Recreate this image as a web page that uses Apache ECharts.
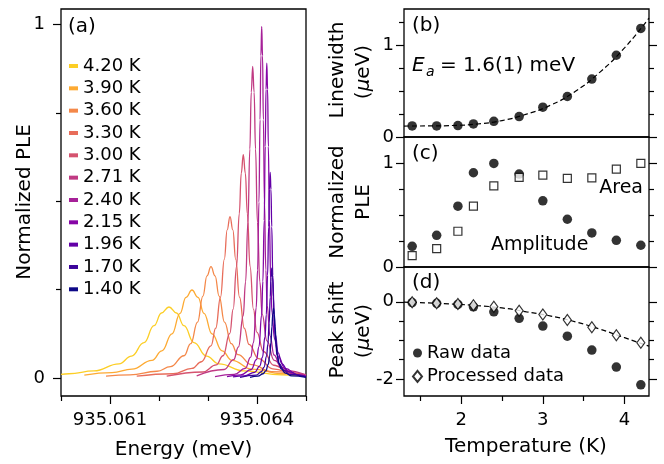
<!DOCTYPE html>
<html><head><meta charset="utf-8">
<script src="https://cdn.jsdelivr.net/npm/echarts@6/dist/echarts.min.js"></script>
<style>html,body{margin:0;padding:0;background:#fff}#chart{width:664px;height:464px}</style>
</head><body><div id="chart"></div>
<script>
// ---------- DATA ----------
const temps = [1.40, 1.70, 1.96, 2.15, 2.40, 2.71, 3.00, 3.30, 3.60, 3.90, 4.20];
const linewidth = [0.121, 0.121, 0.125, 0.143, 0.172, 0.223, 0.326, 0.443, 0.634, 0.894, 1.187];
const amplitude = [0.20, 0.306, 0.587, 0.91, 1.0, 0.897, 0.639, 0.461, 0.329, 0.258, 0.21];
const area = [0.11, 0.177, 0.345, 0.587, 0.784, 0.865, 0.887, 0.855, 0.861, 0.945, 1.0];
const rawShift = [-0.02, -0.04, -0.07, -0.13, -0.26, -0.43, -0.63, -0.89, -1.25, -1.69, -2.15];
const processedShift = [-0.01, -0.04, -0.06, -0.09, -0.13, -0.23, -0.33, -0.47, -0.66, -0.87, -1.06];
const fitT = [1.3, 1.6, 1.9, 2.2, 2.5, 2.8, 3.1, 3.4, 3.7, 4.0, 4.3];
const linewidthFit = [0.12, 0.121, 0.126, 0.142, 0.18, 0.25, 0.35, 0.5, 0.71, 0.975, 1.30];
const shiftFit = [-0.01, -0.03, -0.06, -0.10, -0.16, -0.26, -0.37, -0.52, -0.71, -0.93, -1.15];

const tempLabels = ['4.20 K','3.90 K','3.60 K','3.30 K','3.00 K','2.71 K','2.40 K','2.15 K','1.96 K','1.70 K','1.40 K'];
const energyTickLabels = [935.061, 935.064];
const energyMinorTicks = [935.060, 935.062, 935.063, 935.065];
const tempTickLabels = [2, 3, 4];
const tempMinorTicks = [1.5, 2.5, 3.5];

// spectra: [energy (meV), normalized PLE]
const spectrum420 = [[935.060000,0.010],[935.060163,0.012],[935.060673,0.020],[935.061184,0.040],[935.061439,0.062],[935.061694,0.100],[935.061898,0.148],[935.062051,0.184],[935.062204,0.201],[935.062357,0.184],[935.062510,0.148],[935.062714,0.100],[935.062969,0.062],[935.063224,0.040],[935.063735,0.020],[935.064500,0.009],[935.065000,0.006]];
const spectrum390 = [[935.060476,0.008],[935.061041,0.015],[935.061449,0.025],[935.061857,0.050],[935.062061,0.077],[935.062265,0.125],[935.062429,0.183],[935.062551,0.228],[935.062673,0.249],[935.062796,0.228],[935.062918,0.183],[935.063082,0.125],[935.063286,0.077],[935.063490,0.050],[935.063898,0.025],[935.064510,0.012],[935.065000,0.008]];
const spectrum360 = [[935.060918,0.005],[935.061408,0.009],[935.061959,0.019],[935.062235,0.032],[935.062510,0.063],[935.062648,0.097],[935.062786,0.158],[935.062896,0.232],[935.062979,0.289],[935.063061,0.315],[935.063144,0.289],[935.063227,0.232],[935.063337,0.158],[935.063474,0.097],[935.063612,0.066],[935.063888,0.038],[935.064301,0.018],[935.065000,0.008]];
const spectrum330 = [[935.061545,0.005],[935.062286,0.012],[935.062673,0.027],[935.062867,0.046],[935.063061,0.091],[935.063158,0.141],[935.063255,0.229],[935.063333,0.336],[935.063391,0.419],[935.063449,0.457],[935.063507,0.419],[935.063565,0.336],[935.063643,0.229],[935.063740,0.141],[935.063837,0.095],[935.064031,0.055],[935.064321,0.026],[935.064806,0.011],[935.065000,0.009]];
const spectrum300 = [[935.062157,0.005],[935.062894,0.017],[935.063169,0.037],[935.063307,0.063],[935.063445,0.126],[935.063514,0.195],[935.063583,0.316],[935.063638,0.465],[935.063679,0.580],[935.063720,0.632],[935.063762,0.580],[935.063803,0.465],[935.063858,0.316],[935.063927,0.195],[935.063996,0.130],[935.064134,0.075],[935.064340,0.036],[935.064685,0.015],[935.065000,0.009]];
const spectrum271 = [[935.062769,0.006],[935.063331,0.024],[935.063524,0.052],[935.063622,0.088],[935.063718,0.176],[935.063767,0.272],[935.063815,0.441],[935.063854,0.648],[935.063883,0.809],[935.063912,0.882],[935.063941,0.809],[935.063970,0.648],[935.064009,0.441],[935.064058,0.272],[935.064106,0.180],[935.064203,0.105],[935.064349,0.050],[935.064591,0.021],[935.065000,0.009]];
const spectrum240 = [[935.063143,0.004],[935.063535,0.010],[935.063759,0.027],[935.063871,0.059],[935.063928,0.100],[935.063984,0.199],[935.064012,0.306],[935.064040,0.498],[935.064062,0.731],[935.064079,0.912],[935.064096,0.995],[935.064113,0.912],[935.064130,0.731],[935.064152,0.498],[935.064180,0.306],[935.064208,0.205],[935.064264,0.120],[935.064349,0.065],[935.064489,0.030],[935.064769,0.010],[935.065000,0.005]];
const spectrum215 = [[935.063388,0.004],[935.063669,0.009],[935.063882,0.024],[935.063988,0.052],[935.064041,0.089],[935.064094,0.178],[935.064120,0.274],[935.064147,0.446],[935.064168,0.655],[935.064184,0.817],[935.064200,0.891],[935.064216,0.817],[935.064232,0.655],[935.064253,0.446],[935.064280,0.274],[935.064306,0.185],[935.064359,0.110],[935.064439,0.060],[935.064571,0.027],[935.064837,0.009],[935.065000,0.005]];
const spectrum196 = [[935.063510,0.003],[935.063739,0.006],[935.063951,0.016],[935.064057,0.034],[935.064110,0.058],[935.064163,0.116],[935.064190,0.179],[935.064216,0.291],[935.064238,0.428],[935.064254,0.534],[935.064269,0.582],[935.064285,0.534],[935.064301,0.428],[935.064322,0.291],[935.064349,0.179],[935.064376,0.122],[935.064429,0.072],[935.064508,0.040],[935.064641,0.018],[935.064906,0.006],[935.065000,0.004]];
const spectrum170 = [[935.063653,0.002],[935.063984,0.008],[935.064090,0.018],[935.064143,0.031],[935.064196,0.062],[935.064222,0.096],[935.064249,0.156],[935.064270,0.229],[935.064286,0.285],[935.064302,0.311],[935.064318,0.285],[935.064334,0.229],[935.064355,0.156],[935.064382,0.096],[935.064408,0.066],[935.064461,0.040],[935.064541,0.022],[935.064673,0.010],[935.065000,0.003]];
const spectrum140 = [[935.063857,0.002],[935.064018,0.005],[935.064124,0.012],[935.064178,0.020],[935.064231,0.039],[935.064257,0.061],[935.064284,0.099],[935.064305,0.145],[935.064321,0.181],[935.064337,0.197],[935.064353,0.181],[935.064369,0.145],[935.064390,0.099],[935.064416,0.061],[935.064443,0.042],[935.064496,0.026],[935.064576,0.014],[935.064708,0.006],[935.065000,0.002]];

const spectra = [spectrum420, spectrum390, spectrum360, spectrum330, spectrum300, spectrum271,
                 spectrum240, spectrum215, spectrum196, spectrum170, spectrum140];

// ---------- STYLE ----------
const FONT = 'DejaVu Sans';
const curveColors = ['#fcce25','#fdaa33','#f48849','#e86d5a','#d5536f','#c03a83','#a62098','#8606a6','#6300a7','#3c049b','#0d0887'];
const MAJ = 8, MIN = 5;

function zip(a, b) { return a.map((v, i) => [v, b[i]]); }

function yAx(grid, pos, min, max, ticks, len, labels, margin) {
  return {
    type: 'value', gridIndex: grid, position: pos, min: min, max: max,
    axisLine: { show: false, onZero: false }, splitLine: { show: false },
    axisTick: { show: true, inside: false, length: len, customValues: ticks, lineStyle: { color: '#000', width: 1.2 } },
    axisLabel: labels ? { show: true, customValues: labels, fontSize: 18, color: '#000', fontFamily: FONT, margin: margin } : { show: false }
  };
}
function xAx(grid, min, max, ticks, len, labels, fmt) {
  const ax = {
    type: 'value', gridIndex: grid, position: 'bottom', min: min, max: max,
    axisLine: { show: false, onZero: false }, splitLine: { show: false },
    axisTick: ticks ? { show: true, inside: false, length: len, customValues: ticks, lineStyle: { color: '#000', width: 1.2 } } : { show: false },
    axisLabel: labels ? { show: true, customValues: labels, fontSize: 18, color: '#000', fontFamily: FONT, margin: 15 } : { show: false }
  };
  if (fmt) ax.axisLabel.formatter = fmt;
  return ax;
}

const gridBase = { show: true, borderColor: '#000', borderWidth: 1.3, backgroundColor: 'transparent' };
const grids = [
  Object.assign({ left: 61, top: 9, width: 245, height: 387 }, gridBase),
  Object.assign({ left: 404, top: 9, width: 245, height: 128 }, gridBase),
  Object.assign({ left: 404, top: 137, width: 245, height: 130 }, gridBase),
  Object.assign({ left: 404, top: 267, width: 245, height: 129 }, gridBase)
];

const xAxes = [
  xAx(0, 935.060, 935.065, energyTickLabels, MAJ, energyTickLabels, v => v.toFixed(3)),
  xAx(0, 935.060, 935.065, energyMinorTicks, MIN, null),
  xAx(1, 1.3, 4.3, null, 0, null),
  xAx(2, 1.3, 4.3, null, 0, null),
  xAx(3, 1.3, 4.3, tempTickLabels, MAJ, tempTickLabels),
  xAx(3, 1.3, 4.3, tempMinorTicks, MIN, null)
];

const yAxes = [
  yAx(0, 'left', -0.051, 1.0445, [0, 1], MAJ, [0, 1], 16),
  yAx(0, 'left', -0.051, 1.0445, [0.25, 0.5, 0.75], MIN, null),
  yAx(1, 'left', 0, 1.4, [0, 1], MAJ, [0, 1], 10),
  yAx(1, 'left', 0, 1.4, [0.25, 0.5, 0.75, 1.25], MIN, null),
  yAx(1, 'right', 0, 1.4, [0, 1], MAJ, null),
  yAx(1, 'right', 0, 1.4, [0.25, 0.5, 0.75, 1.25], MIN, null),
  yAx(2, 'left', 0, 1.255, [0, 1], MAJ, [0, 1], 10),
  yAx(2, 'left', 0, 1.255, [0.25, 0.5, 0.75], MIN, null),
  yAx(2, 'right', 0, 1.255, [0, 1], MAJ, null),
  yAx(2, 'right', 0, 1.255, [0.25, 0.5, 0.75], MIN, null),
  yAx(3, 'left', -2.44, 0.9, [0, -2], MAJ, [0, -2], 10),
  yAx(3, 'left', -2.44, 0.9, [-0.5, -1, -1.5], MIN, null),
  yAx(3, 'right', -2.44, 0.9, [0, -2], MAJ, null),
  yAx(3, 'right', -2.44, 0.9, [-0.5, -1, -1.5], MIN, null)
];

const series = [];
spectra.forEach((d, i) => {
  series.push({
    name: tempLabels[i], type: 'line', xAxisIndex: 0, yAxisIndex: 0,
    data: d, showSymbol: false, symbol: 'none', smooth: 0.45, smoothMonotone: 'x',
    lineStyle: { color: curveColors[i], width: 1.3 }, itemStyle: { color: curveColors[i] }, z: 2 + i
  });
});
series.push({ type: 'line', xAxisIndex: 2, yAxisIndex: 2, data: zip(fitT, linewidthFit), showSymbol: false, symbol: 'none', smooth: true,
  lineStyle: { color: '#000', width: 1.2, type: [5, 3] } });
series.push({ type: 'scatter', xAxisIndex: 2, yAxisIndex: 2, data: zip(temps, linewidth), symbol: 'circle', symbolSize: 9.5,
  itemStyle: { color: '#000' }, z: 5 });
series.push({ type: 'scatter', xAxisIndex: 3, yAxisIndex: 6, data: zip(temps, amplitude), symbol: 'circle', symbolSize: 9.5,
  itemStyle: { color: '#000' }, z: 5 });
series.push({ type: 'scatter', xAxisIndex: 3, yAxisIndex: 6, data: zip(temps, area), symbol: 'rect', symbolSize: 8,
  itemStyle: { color: '#fff', borderColor: '#000', borderWidth: 1.2 }, z: 6 });
series.push({ type: 'line', xAxisIndex: 4, yAxisIndex: 10, data: zip(fitT, shiftFit), showSymbol: false, symbol: 'none', smooth: true,
  lineStyle: { color: '#000', width: 1.2, type: [5, 3] } });
series.push({ name: 'Raw data', type: 'scatter', xAxisIndex: 4, yAxisIndex: 10, data: zip(temps, rawShift), symbol: 'circle', symbolSize: 9.5,
  itemStyle: { color: '#000' }, z: 5 });
series.push({ name: 'Processed data', type: 'scatter', xAxisIndex: 4, yAxisIndex: 10, data: zip(temps, processedShift), symbol: 'diamond', symbolSize: [8, 11],
  itemStyle: { color: '#fff', borderColor: '#000', borderWidth: 1.2 }, z: 6 });

function txt(x, y, text, size, opts) {
  opts = opts || {};
  const style = {
    text: text, fontSize: size, fontFamily: FONT, fontStyle: opts.italic ? 'italic' : 'normal', fill: '#000',
    align: opts.align || 'left', verticalAlign: 'middle', textAlign: opts.align || 'left', textVerticalAlign: 'middle'
  };
  if (opts.rich) style.rich = opts.rich;
  const el = { type: 'text', x: x, y: y, z: 100, style: style };
  if (opts.rot) el.rotation = opts.rot;
  return el;
}
const R = Math.PI / 2;
const muRich = { m: { fontStyle: 'italic', fontSize: 20, fontFamily: FONT, fill: '#000' } };

const graphic = [
  txt(68, 27, '(a)', 20),
  txt(412, 26, '(b)', 20),
  txt(412, 154, '(c)', 20),
  txt(412, 283, '(d)', 20),
  txt(412, 66, 'E', 20, { italic: true }),
  txt(426, 72, 'a', 14, { italic: true }),
  txt(440, 66, '= 1.6(1) meV', 20),
  txt(643, 188, 'Area', 19, { align: 'right' }),
  txt(491, 245, 'Amplitude', 19),
  txt(25, 202, 'Normalized PLE', 20, { align: 'center', rot: R }),
  txt(183.5, 450, 'Energy (meV)', 20, { align: 'center' }),
  txt(526, 447, 'Temperature (K)', 20, { align: 'center' }),
  txt(338, 70, 'Linewidth', 20, { align: 'center', rot: R }),
  txt(364, 72, '({m|μ}eV)', 20, { align: 'center', rot: R, rich: muRich }),
  txt(338, 202, 'Normalized', 20, { align: 'center', rot: R }),
  txt(364, 202, 'PLE', 20, { align: 'center', rot: R }),
  txt(338, 330, 'Peak shift', 20, { align: 'center', rot: R }),
  txt(364, 331, '({m|μ}eV)', 20, { align: 'center', rot: R, rich: muRich })
];

const option = {
  animation: false,
  backgroundColor: '#fff',
  textStyle: { fontFamily: FONT },
  grid: grids,
  xAxis: xAxes,
  yAxis: yAxes,
  legend: [
    { orient: 'vertical', left: 69, top: 57, padding: 0, itemWidth: 9, itemHeight: 4, itemGap: 4.33, icon: 'rect',
      selectedMode: false, textStyle: { fontSize: 18, lineHeight: 18, color: '#000', fontFamily: FONT }, data: tempLabels },
    { orient: 'vertical', left: 412, top: 344, padding: 0, itemWidth: 9, itemHeight: 11, itemGap: 5.4,
      selectedMode: false, textStyle: { fontSize: 18, lineHeight: 18, color: '#000', fontFamily: FONT },
      data: [{ name: 'Raw data', icon: 'circle' }, { name: 'Processed data', icon: 'diamond' }] }
  ],
  series: series,
  graphic: graphic
};

const chart = echarts.init(document.getElementById('chart'), null, { renderer: 'canvas' });
chart.setOption(option);
</script>
</body></html>
